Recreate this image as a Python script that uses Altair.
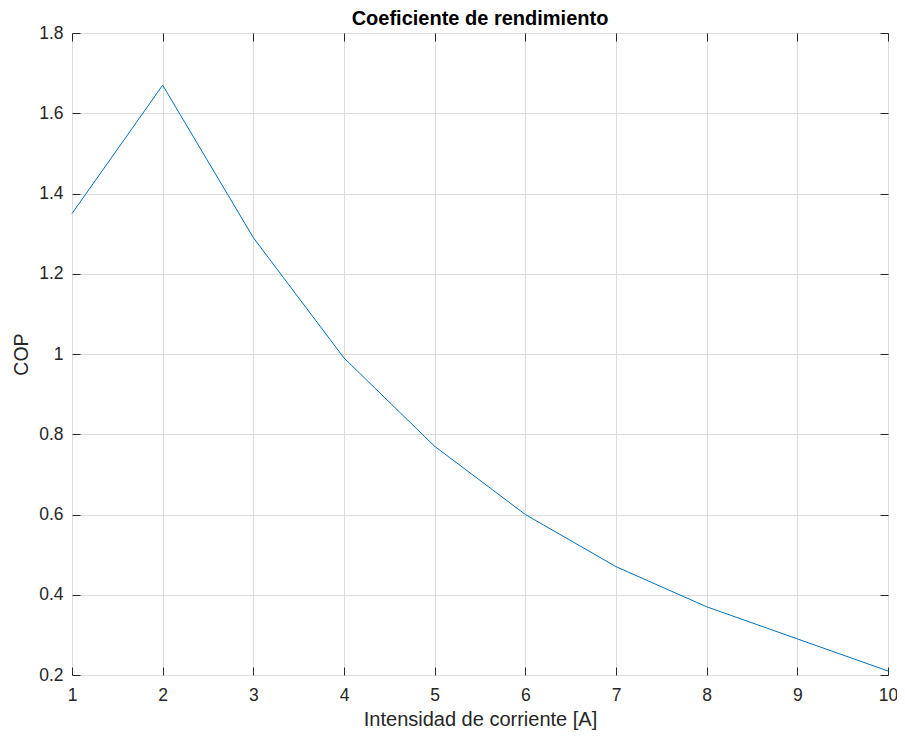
import altair as alt
import pandas as pd

intensidad = [1, 2, 3, 4, 5, 6, 7, 8, 9, 10]
cop = [1.35, 1.67, 1.29, 0.99, 0.77, 0.60, 0.47, 0.37, 0.29, 0.21]
x_ticks = [1, 2, 3, 4, 5, 6, 7, 8, 9, 10]
y_ticks = [0.2, 0.4, 0.6, 0.8, 1.0, 1.2, 1.4, 1.6, 1.8]

df = pd.DataFrame({"I": intensidad, "COP": cop})

W, H = 816, 642
FONT = "Liberation Sans"
AX = "#262626"

xs = alt.Scale(domain=[1, 10], nice=False, zero=False)
ys = alt.Scale(domain=[0.2, 1.8], nice=False, zero=False)

base = alt.Chart(df)

main = base.mark_line(color="#0072BD", strokeWidth=1).encode(
    x=alt.X("I:Q", scale=xs, axis=alt.Axis(
        orient="bottom", values=x_ticks, labelExpr="toString(datum.value)",
        title="Intensidad de corriente [A]",
        grid=True, gridColor="#dcdcdc", gridWidth=1, ticks=False, domain=False,
        labelPadding=11, labelFontSize=17.5, labelFont=FONT, labelColor=AX,
        labelFlush=False,
        titleFontSize=20, titleFont=FONT, titleColor=AX, titleFontWeight="normal",
        titlePadding=6)),
    y=alt.Y("COP:Q", scale=ys, axis=alt.Axis(
        orient="left", values=y_ticks, labelExpr="toString(round(datum.value*10)/10)",
        title="COP",
        grid=True, gridColor="#dcdcdc", gridWidth=1, ticks=False, domain=False,
        labelPadding=9, labelFontSize=17.5, labelFont=FONT, labelColor=AX,
        labelFlush=False,
        titleFontSize=19.5, titleFont=FONT, titleColor=AX, titleFontWeight="normal",
        titlePadding=7)),
)


def tick_layer(xorient, yorient):
    return base.mark_line(opacity=0).encode(
        x=alt.X("I:Q", scale=xs, axis=alt.Axis(
            orient=xorient, offset=-H, values=x_ticks, labels=False, domain=False,
            grid=False, title=None, ticks=True, tickSize=8, tickColor=AX, tickWidth=1)),
        y=alt.Y("COP:Q", scale=ys, axis=alt.Axis(
            orient=yorient, offset=-W, values=y_ticks, labels=False, domain=False,
            grid=False, title=None, ticks=True, tickSize=8, tickColor=AX, tickWidth=1)),
    )


chart = alt.layer(
    main,
    tick_layer("top", "right"),
    tick_layer("bottom", "left"),
).resolve_axis(x="independent", y="independent").properties(
    width=W,
    height=H,
    title=alt.TitleParams("Coeficiente de rendimiento", fontSize=20, fontWeight="bold",
                          font=FONT, color="black", anchor="middle", offset=-5),
    autosize=alt.AutoSizeParams(type="none"),
    padding={"left": 64, "top": 25, "right": 9, "bottom": 60},
).configure_view(stroke=AX, strokeWidth=1).configure(background="white")

chart.save("out.html", embed_options={"renderer": "svg", "actions": False})
